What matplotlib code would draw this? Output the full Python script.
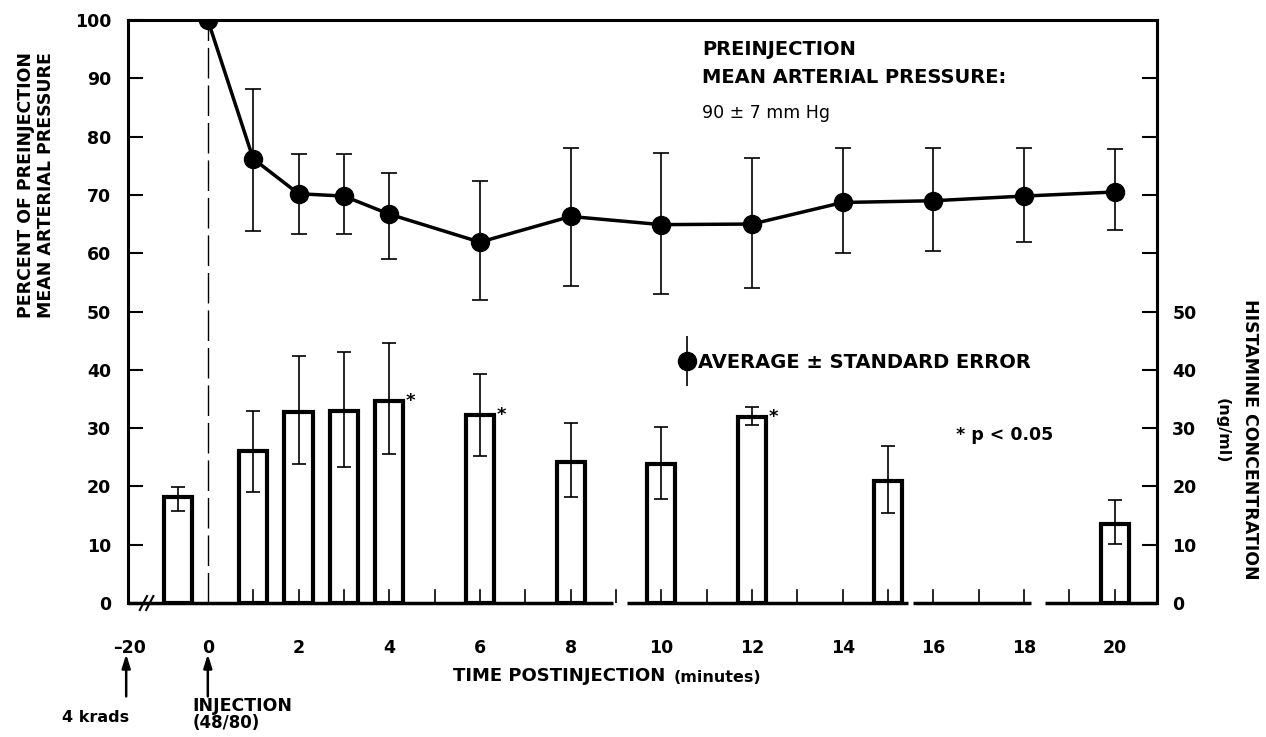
import numpy as np
import matplotlib.pyplot as plt
from matplotlib.container import ErrorbarContainer
from matplotlib.legend_handler import HandlerErrorbar

plt.rcParams['font.family'] = 'DejaVu Sans'

# mean arterial pressure, percent of preinjection value
bp_time = [0, 1, 2, 3, 4, 6, 8, 10, 12, 14, 16, 18, 20]
bp_mean = [100, 76.2, 70.2, 69.8, 66.7, 61.9, 66.3, 64.9, 65.0, 68.7, 69.0, 69.8, 70.5]
bp_hi = [100, 88.2, 77.0, 77.0, 73.8, 72.4, 78.1, 77.2, 76.3, 78.0, 78.1, 78.0, 77.8]
bp_lo = [100, 63.8, 63.3, 63.3, 59.0, 52.0, 54.3, 53.0, 54.0, 60.0, 60.3, 61.9, 63.9]

# plasma histamine (ng/ml), first sample taken at -20 min
hist_time = [-20, 1, 2, 3, 4, 6, 8, 10, 12, 15, 20]
hist_mean = [18.1, 26.1, 32.8, 32.9, 34.7, 32.3, 24.2, 23.8, 31.9, 20.9, 13.6]
hist_hi = [19.9, 32.9, 42.4, 43.0, 44.6, 39.2, 30.9, 30.2, 33.6, 27.0, 17.6]
hist_lo = [15.8, 19.0, 23.9, 23.4, 25.6, 25.2, 18.2, 17.8, 30.5, 15.4, 10.2]
signif_time = [4, 6, 12]

time_labels = ["\u201320", "0", "2", "4", "6", "8", "10", "12", "14", "16", "18", "20"]
left_ticks = [0, 10, 20, 30, 40, 50, 60, 70, 80, 90, 100]
right_labels = ["0", "10", "20", "30", "40", "50"]

# broken axis: the -20 min sample is squeezed in left of zero
PRE_TICK = -1.72
PRE_BAR = -0.65


def xpos(t):
    return PRE_BAR if t < 0 else t


fig = plt.figure(figsize=(12.66, 7.37), dpi=100)
ax = fig.add_axes([128 / 1266, 1 - 603 / 737, 1029 / 1266, 583 / 737])
ax.set_xlim(-1.76, 20.93)
ax.set_ylim(0, 100)

# histamine bars
hx = [xpos(t) for t in hist_time]
hm = np.array(hist_mean)
ax.bar(hx, hm, width=0.62, facecolor='white', edgecolor='black', linewidth=3, zorder=2)
ax.errorbar(hx, hm, yerr=[hm - np.array(hist_lo), np.array(hist_hi) - hm], fmt='none',
            ecolor='black', elinewidth=1.2, capsize=5, capthick=1.2, zorder=3)
for t in signif_time:
    i = hist_time.index(t)
    ax.text(xpos(t) + 0.36, hist_mean[i], "*", fontsize=13, fontweight='bold', ha='left', va='center')

# dashed line at injection
ax.plot([0, 0], [0, 100], color='black', lw=1.0, dashes=(22, 5), zorder=1)

# blood pressure line
bm = np.array(bp_mean)
ax.errorbar(bp_time, bm, yerr=[bm - np.array(bp_lo), np.array(bp_hi) - bm], fmt='-o',
            color='black', lw=2.5, ms=13, elinewidth=1.2, capsize=6, capthick=1.2, zorder=4)

# minute ticks along the time axis (visible through the bars)
for m in range(1, 21):
    ax.plot([m, m], [0, 2.2], color='black', lw=1.2, zorder=2.5)

# bottom axis drawn in pieces, with gaps and break mark
ax.spines['bottom'].set_visible(False)
for a, b in [(-1.76, 8.94), (9.25, 15.45), (15.55, 18.16), (18.47, 20.93)]:
    ax.plot([a, b], [0, 0], color='black', lw=2.5, clip_on=False, zorder=5, solid_capstyle='butt')
for dx in [-1.42, -1.28]:
    ax.plot([dx - 0.08, dx + 0.08], [-1.2, 1.2], color='black', lw=1.5, clip_on=False, zorder=6)
for s in ['left', 'right', 'top']:
    ax.spines[s].set_linewidth(2.2)

ax.set_xticks([PRE_TICK] + list(range(0, 21, 2)))
ax.set_xticklabels(time_labels, fontsize=12.5, fontweight='bold')
ax.tick_params(axis='x', length=0, pad=26)
ax.set_yticks(left_ticks)
ax.set_yticklabels([str(v) for v in left_ticks], fontsize=12.5, fontweight='bold')
ax.tick_params(axis='y', direction='in', length=11, width=1.5, pad=12)

ax2 = ax.twinx()
ax2.set_ylim(0, 100)
ax2.set_yticks(list(range(0, 100, 10)))
ax2.set_yticklabels(right_labels + [""] * 4, fontsize=12.5, fontweight='bold')
ax2.tick_params(axis='y', direction='in', length=11, width=1.5, pad=11)
for s in ['bottom', 'left', 'top']:
    ax2.spines[s].set_visible(False)
ax2.spines['right'].set_linewidth(2.2)

# legend: point with error bar
proxy = ax.errorbar([], [], yerr=[], fmt='o', color='black', ms=13, elinewidth=1.2,
                    capsize=6, capthick=1.2)
ax.legend([proxy], ["AVERAGE \u00b1 STANDARD ERROR"], loc='center left',
          bbox_to_anchor=(0.534, 0.413), frameon=False, borderpad=0, borderaxespad=0,
          handlelength=1.0, handletextpad=0.05,
          prop={'size': 14, 'weight': 'bold'},
          handler_map={ErrorbarContainer: HandlerErrorbar(yerr_size=1.3)})

ax.text(10.9, 96.5, "PREINJECTION\nMEAN ARTERIAL PRESSURE:", fontsize=14, fontweight='bold',
        ha='left', va='top', linespacing=1.55)
ax.text(10.9, 85.6, "90 \u00b1 7 mm Hg", fontsize=12.5, ha='left', va='top')
ax.text(16.5, 28.8, "* p < 0.05", fontsize=12.5, fontweight='bold', ha='left', va='center')

# axis titles
fig.text(36 / 1266, 1 - 185 / 737, "PERCENT OF PREINJECTION\nMEAN ARTERIAL PRESSURE",
         rotation=90, ha='center', va='center', fontsize=12.5, fontweight='bold', linespacing=1.1)
fig.text(1250 / 1266, 1 - 439 / 737, "HISTAMINE CONCENTRATION", rotation=-90,
         ha='center', va='center', fontsize=12.5, fontweight='bold')
fig.text(1222 / 1266, 1 - 431 / 737, "(ng/ml)", rotation=-90,
         ha='center', va='center', fontsize=11.5, fontweight='bold')
fig.text(453 / 1266, 1 - 676 / 737, "TIME POSTINJECTION", ha='left', va='center',
         fontsize=13, fontweight='bold')
fig.text(674 / 1266, 1 - 678 / 737, "(minutes)", ha='left', va='center',
         fontsize=11.5, fontweight='bold')

# event arrows below the axis
tr = ax.get_xaxis_transform()
arrow = dict(arrowstyle='-|>,head_length=0.8,head_width=0.25', color='black', lw=1.8)
ax.annotate("", xy=(PRE_TICK - 0.08, -0.083), xytext=(PRE_TICK - 0.08, -0.165),
            xycoords=tr, textcoords=tr, arrowprops=arrow)
ax.annotate("", xy=(0, -0.083), xytext=(0, -0.165), xycoords=tr, textcoords=tr, arrowprops=arrow)
ax.text(-2.47, -0.197, "4 krads", transform=tr, ha='center', va='center',
        fontsize=11.5, fontweight='bold', clip_on=False)
ax.text(-0.33, -0.177, "INJECTION", transform=tr, ha='left', va='center',
        fontsize=12.5, fontweight='bold', clip_on=False)
ax.text(-0.33, -0.205, "(48/80)", transform=tr, ha='left', va='center',
        fontsize=12, fontweight='bold', clip_on=False)

fig.savefig("out.png", dpi=100)
